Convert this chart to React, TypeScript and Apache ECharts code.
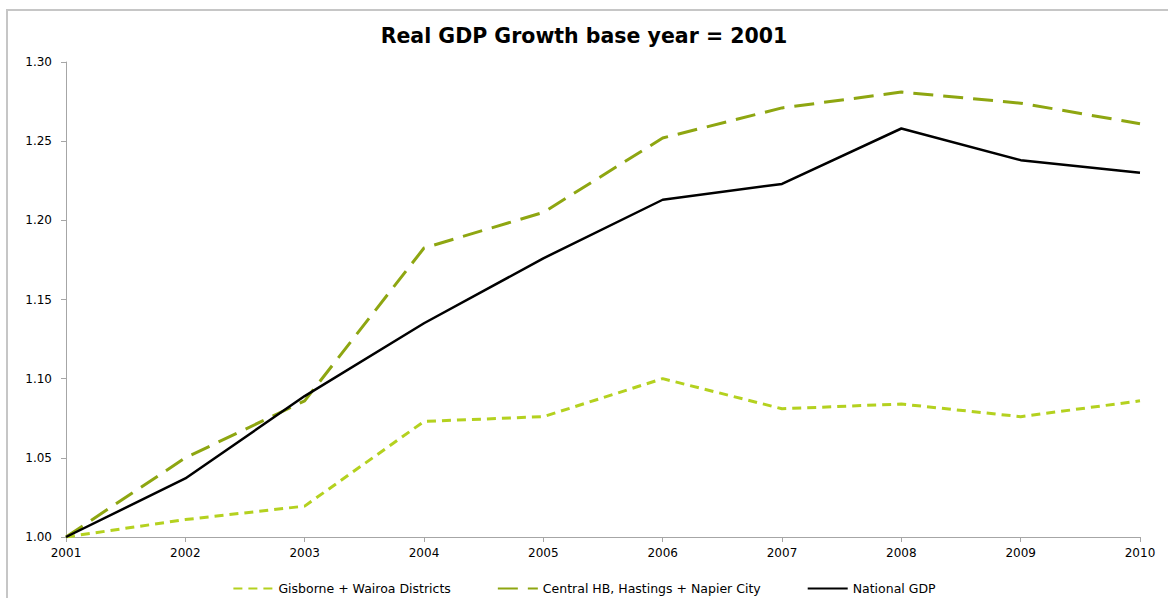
import React, { useEffect, useRef } from "react";
import * as echarts from "echarts";

const years = ["2001", "2002", "2003", "2004", "2005", "2006", "2007", "2008", "2009", "2010"];
const gisborne = [1.0, 1.011, 1.0195, 1.073, 1.076, 1.1, 1.081, 1.084, 1.076, 1.086];
const centralHB = [1.0, 1.05, 1.086, 1.1825, 1.205, 1.252, 1.271, 1.281, 1.274, 1.261];
const nationalGDP = [1.0, 1.037, 1.089, 1.135, 1.176, 1.213, 1.223, 1.258, 1.238, 1.23];

const FONT = "DejaVu Sans, Verdana, sans-serif";

export default function App() {
  const ref = useRef<HTMLDivElement>(null);
  useEffect(() => {
    document.body.style.margin = "0";
    const chart = echarts.init(ref.current!, null, { renderer: "svg" });
    chart.setOption({
      animation: false,
      backgroundColor: "#ffffff",
      title: {
        text: "Real GDP Growth base year = 2001",
        left: "center",
        top: 20,
        textStyle: { fontFamily: FONT, fontSize: 20.5, fontWeight: "bold", color: "#000" },
      },
      graphic: [
        {
          type: "rect",
          shape: { x: 7, y: 10, width: 1300, height: 800 },
          style: { fill: "none", stroke: "#c6c6c6", lineWidth: 2 },
          silent: true,
        },
      ],
      grid: { left: 66, right: 28, top: 62, bottom: 61 },
      xAxis: {
        type: "category",
        data: years,
        boundaryGap: false,
        axisLine: { lineStyle: { color: "#a6a6a6", width: 1 } },
        axisTick: { show: true, alignWithLabel: true, length: 5, lineStyle: { color: "#a6a6a6" } },
        axisLabel: { fontFamily: FONT, fontSize: 12, color: "#000", margin: 10 },
        splitLine: { show: false },
      },
      yAxis: {
        type: "value",
        min: 1.0,
        max: 1.3,
        interval: 0.05,
        axisLine: { show: true, lineStyle: { color: "#a6a6a6", width: 1 } },
        axisTick: { show: true, length: 5, lineStyle: { color: "#a6a6a6" } },
        axisLabel: {
          fontFamily: FONT,
          fontSize: 12,
          color: "#000",
          margin: 14,
          formatter: (v: number) => v.toFixed(2),
        },
        splitLine: { show: false },
      },
      legend: {
        top: 577,
        left: "center",
        itemWidth: 40,
        itemHeight: 10,
        itemGap: 46,
        itemStyle: { opacity: 0 },
        textStyle: { fontFamily: FONT, fontSize: 12.5, color: "#000" },
        data: ["Gisborne + Wairoa Districts", "Central HB, Hastings + Napier City", "National GDP"],
      },
      series: [
        {
          name: "Gisborne + Wairoa Districts",
          type: "line",
          data: gisborne,
          symbol: "none",
          lineStyle: { color: "#b4d11f", width: 3, type: [9, 6] },
          itemStyle: { color: "#b4d11f" },
        },
        {
          name: "Central HB, Hastings + Napier City",
          type: "line",
          data: centralHB,
          symbol: "none",
          lineStyle: { color: "#8ea611", width: 3, type: [20, 10] },
          itemStyle: { color: "#8ea611" },
        },
        {
          name: "National GDP",
          type: "line",
          data: nationalGDP,
          symbol: "none",
          lineStyle: { color: "#000000", width: 2.5 },
          itemStyle: { color: "#000000" },
        },
      ],
    });
    return () => chart.dispose();
  }, []);
  return <div ref={ref} style={{ position: "absolute", left: 0, top: 0, width: 1168, height: 598 }} />;
}
